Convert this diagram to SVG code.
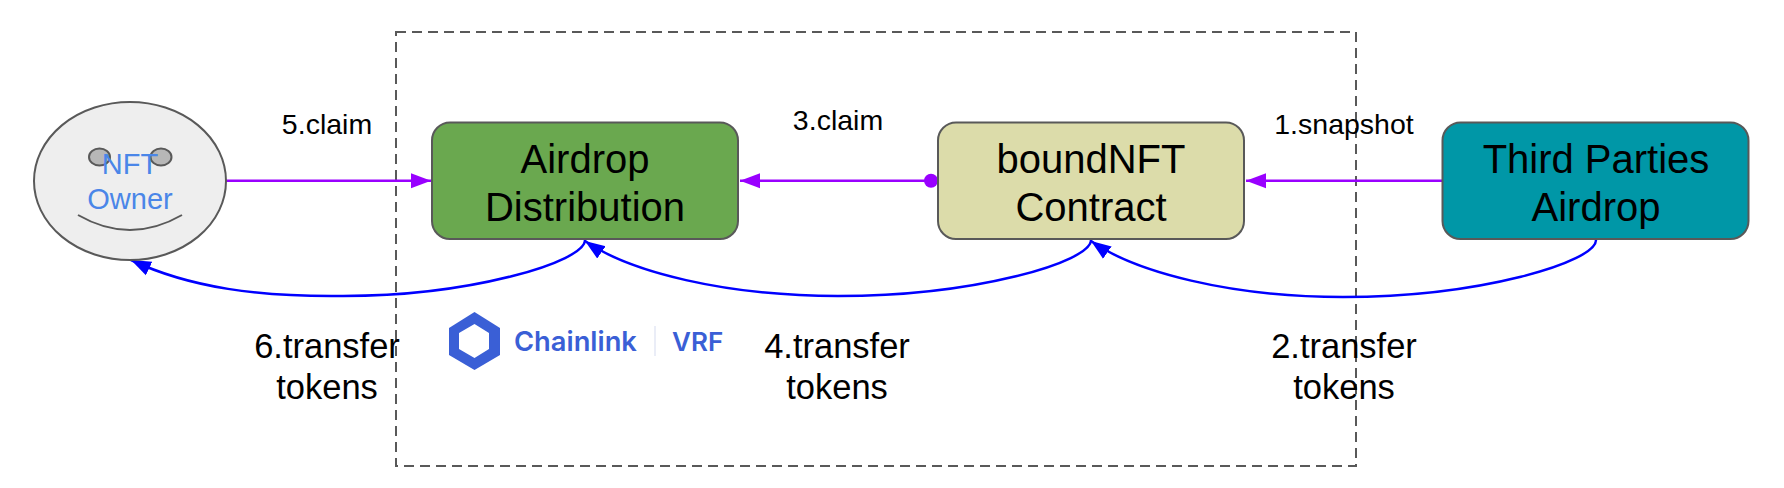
<svg xmlns="http://www.w3.org/2000/svg" width="1784" height="488" viewBox="0 0 1784 488">
<style>
text{font-family:"Liberation Sans",Arial,sans-serif;fill:#000;text-anchor:middle}
.node{stroke:#595959;stroke-width:2}
.big{font-size:40px}
.lab{font-size:34.500px}
.sm{font-size:28.500px}
.p{fill:none;stroke:#9900ff;stroke-width:2.500}
.b{fill:none;stroke:#0000ff;stroke-width:2.500}
.own{font-size:29px;fill:#4a86e8}
.cl{font-family:"Inter","Open Sans",sans-serif;font-weight:600;fill:#3a5fd6;text-anchor:start}
</style>
<defs>
<marker id="ap" markerUnits="userSpaceOnUse" markerWidth="21" markerHeight="17" refX="20" refY="8" orient="auto"><path d="M0 0.500L20 8L0 15.500Z" fill="#9900ff"/></marker>
<marker id="ab" markerUnits="userSpaceOnUse" markerWidth="21" markerHeight="17" refX="20" refY="8" orient="auto"><path d="M0 0.500L20 8L0 15.500Z" fill="#0000ff"/></marker>
</defs>
<rect width="1784" height="488" fill="#fff"/>
<rect id="boundary" x="396" y="32" width="960" height="434" fill="none" stroke="#595959" stroke-width="2" stroke-dasharray="10 6"/>
<g id="connectors">
<path class="p" d="M226 180.700H431" marker-end="url(#ap)"/>
<path class="p" d="M931 180.700H740" marker-end="url(#ap)"/>
<circle cx="931" cy="180.700" r="7" fill="#9900ff"/>
<path class="p" d="M1443 180.700H1246" marker-end="url(#ap)"/>
<path class="b" d="M585 240C585 262 470 296 343 296C260 297 190 288 131 260" marker-end="url(#ab)"/>
<path class="b" d="M1091 240C1091 262 975 296 838 296C725 296 630 272 585 241" marker-end="url(#ab)"/>
<path class="b" d="M1596 240C1596 262 1480 297 1343 297C1230 297 1135 272 1091 241" marker-end="url(#ab)"/>
</g>
<g id="nft-owner">
<ellipse cx="130" cy="181" rx="96" ry="79" class="node" fill="#eeeeee"/>
<ellipse cx="99.500" cy="157" rx="10.500" ry="8.500" class="node" fill="#b7b7b7"/>
<ellipse cx="161" cy="157" rx="10.500" ry="8.500" class="node" fill="#b7b7b7"/>
<path d="M78 215Q130 245 182 215" fill="none" stroke="#595959" stroke-width="2"/>
<text class="own" x="130" y="174">NFT</text>
<text class="own" x="130" y="209">Owner</text>
</g>
<g id="airdrop-distribution">
<rect x="432" y="122.500" width="306" height="116.500" rx="18" class="node" fill="#6aa84f"/>
<text class="big" x="585" y="173">Airdrop</text>
<text class="big" x="585" y="221">Distribution</text>
</g>
<g id="boundnft-contract">
<rect x="938" y="122.500" width="306" height="116.500" rx="18" class="node" fill="#dcdcaa"/>
<text class="big" x="1091" y="173">boundNFT</text>
<text class="big" x="1091" y="221">Contract</text>
</g>
<g id="third-parties">
<rect x="1442.500" y="122.500" width="306" height="116.500" rx="18" class="node" fill="#0097a7"/>
<text class="big" x="1596" y="173">Third Parties</text>
<text class="big" x="1596" y="221">Airdrop</text>
</g>
<g id="chainlink-logo">
<path fill-rule="evenodd" d="M474.500 312L500 328V355L474.500 370L449 355V328ZM474.500 324L459 333V349L474.500 358L489 349V333Z" fill="#3a5fd6"/>
<text class="cl" x="514" y="351" font-size="27.300">Chainlink</text>
<text class="cl" x="672" y="351" font-size="26">VRF</text>
<rect x="654.500" y="326" width="1" height="30" fill="#d5dcf0"/>
</g>
<g id="labels">
<text class="sm" x="327" y="134">5.claim</text>
<text class="sm" x="838" y="130">3.claim</text>
<text class="sm" x="1344" y="134">1.snapshot</text>
<text class="lab" x="327" y="358">6.transfer</text>
<text class="lab" x="327" y="399">tokens</text>
<text class="lab" x="837" y="358">4.transfer</text>
<text class="lab" x="837" y="399">tokens</text>
<text class="lab" x="1344" y="358">2.transfer</text>
<text class="lab" x="1344" y="399">tokens</text>
</g>
</svg>
